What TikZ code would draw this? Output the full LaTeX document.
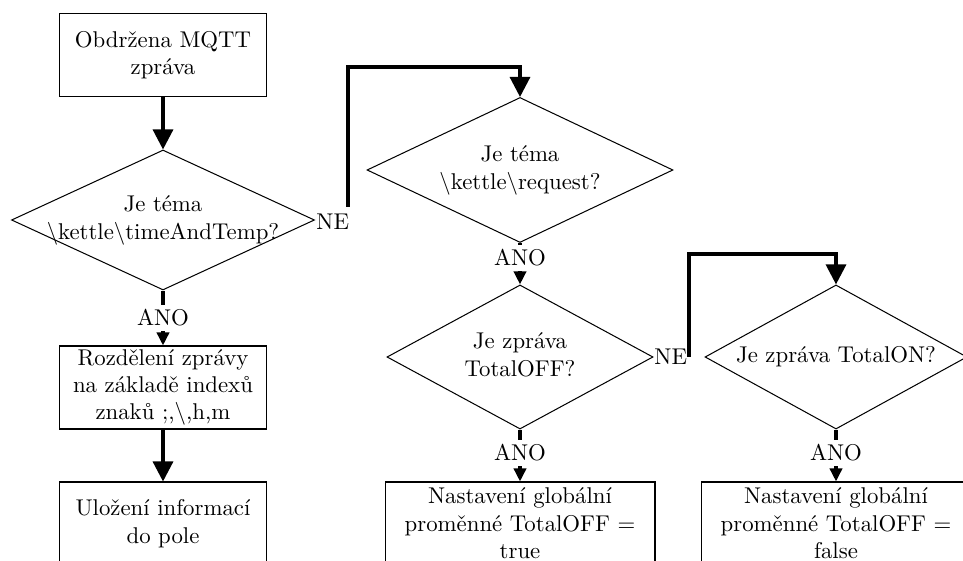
\documentclass[tikz,border=0pt]{standalone}
\usepackage{fontspec}
\usetikzlibrary{shapes.geometric,arrows.meta}
% centred multi-line text that does not widen the decision shape
\newcommand\qtext[1]{\makebox[0pt]{\begin{tabular}{@{}c@{}}#1\end{tabular}}}
\begin{document}
\begin{tikzpicture}[x=0.4386pt,y=-0.4386pt,
  procbox/.style={draw,line width=0.45pt,rectangle,align=center,inner sep=0pt,
                  minimum width=91.2pt,minimum height=36.4pt},
  widebox/.style={procbox,minimum width=118.4pt},
  decision/.style={draw,line width=0.45pt,diamond,inner sep=0pt},
  answer/.style={inner sep=2pt},
  nolbl/.style={inner sep=0pt,anchor=west},
  flow/.style={line width=1.4pt,-{Triangle[length=8.8pt,width=8.8pt]}},
  stub/.style={line width=1.4pt},
  shortflow/.style={line width=1.4pt,-{Triangle[length=5.7pt,width=5.3pt]}}]

\useasboundingbox (0,0) rectangle (963,561);
\fill[white] (0,0) rectangle (963,561);
\clip (0,0) rectangle (963,561);

% first column: topic timeAndTemp
\node[procbox,minimum height=36.8pt] (recv) at (163,55) {Obdržena MQTT\\zpráva};
\node[decision,minimum width=132.9pt,minimum height=61.4pt] (q1) at (163,220)
  {\qtext{Je téma\\$\backslash$kettle$\backslash$timeAndTemp?}};
\node[nolbl] (no1) at (316,222) {NE};
\node[answer] (a1) at (163,318) {ANO};
\node[procbox] (split) at (163,387.5) {Rozdělení zprávy\\na základě indexů\\znaků ;,$\backslash$,h,m};
\node[procbox] (store) at (163,523.5) {Uložení informací\\do pole};

% second column: topic request, TotalOFF
\node[decision,minimum width=134.2pt,minimum height=63.6pt] (q2) at (520,170)
  {\qtext{Je téma\\$\backslash$kettle$\backslash$request?}};
\node[answer] (a2) at (520,258) {ANO};
\node[decision,minimum width=116.7pt,minimum height=63.2pt] (q3) at (520,357)
  {\qtext{Je zpráva\\TotalOFF?}};
\node[nolbl] (no2) at (654,357) {NE};
\node[answer] (a3) at (520,453) {ANO};
\node[widebox] (off) at (520,523.5) {Nastavení globální\\proměnné TotalOFF =\\true};

% third column: TotalON
\node[decision,minimum width=114.9pt,minimum height=63.2pt] (q4) at (836,357)
  {\qtext{Je zpráva TotalON?}};
\node[answer] (a4) at (836,453) {ANO};
\node[widebox] (on) at (836,523.5) {Nastavení globální\\proměnné TotalOFF =\\false};

% bends of the NE branches
\coordinate (t1) at (520,67);
\coordinate (t2) at (836,254);

% connectors
\draw[flow] (recv.south) -- (q1.north);
\draw[stub] (q1.south) -- (a1.north);
\draw[shortflow] (a1.south) -- (split.north);
\draw[flow] (split.south) -- (store.north);

\draw[flow] ([shift={(-0.7pt,3pt)}]no1.north east) |- (t1) -- (q2.north);
\draw[stub] (q2.south) -- (a2.north);
\draw[shortflow] (a2.south) -- (q3.north);
\draw[stub] (q3.south) -- (a3.north);
\draw[shortflow] (a3.south) -- (off.north);

\draw[flow] ([xshift=0.6pt]no2.east) |- (t2) -- (q4.north);
\draw[stub] (q4.south) -- (a4.north);
\draw[shortflow] (a4.south) -- (on.north);
\end{tikzpicture}
\end{document}
